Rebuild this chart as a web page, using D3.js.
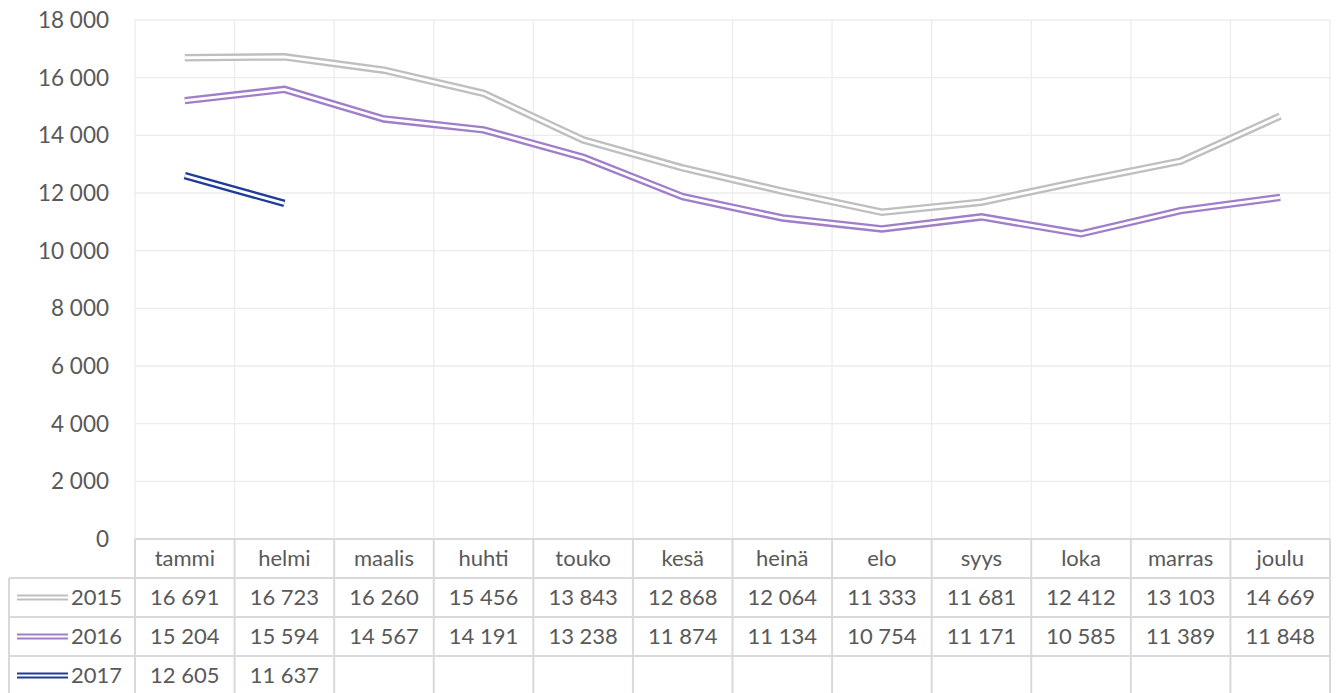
<!DOCTYPE html>
<html>
<head>
<meta charset="utf-8">
<script src="https://cdn.jsdelivr.net/npm/d3@7"></script>
<style>
  body { margin: 0; background: #fff; }
  text { font-family: "Lato", "Open Sans", sans-serif; fill: #595959; }
</style>
</head>
<body>
<svg id="chart" width="1338" height="693"></svg>
<script>
// data
var months = ["tammi", "helmi", "maalis", "huhti", "touko", "kesä", "heinä", "elo", "syys", "loka", "marras", "joulu"];
var years = ["2015", "2016", "2017"];
var values2015 = [16691, 16723, 16260, 15456, 13843, 12868, 12064, 11333, 11681, 12412, 13103, 14669];
var values2016 = [15204, 15594, 14567, 14191, 13238, 11874, 11134, 10754, 11171, 10585, 11389, 11848];
var values2017 = [12605, 11637];
var yTicks = [0, 2000, 4000, 6000, 8000, 10000, 12000, 14000, 16000, 18000];
var colors = ["#bfbfbf", "#a07ec9", "#1f3c98"];

var series = [values2015, values2016, values2017];

var svg = d3.select("#chart");
// note: "top" is taken by window.top, so plotTop/plotBottom
var plotLeft = 135, plotRight = 1330, plotTop = 20, plotBottom = 539;
var rowH = 39, tableLeft = 9;

var x = d3.scaleBand().domain(months).range([plotLeft, plotRight]);
var y = d3.scaleLinear().domain([0, 18000]).range([plotBottom, plotTop]);

var fmt = function (v) { return d3.format(",")(v).replace(/,/g, " "); };

// horizontal gridlines
svg.append("g").selectAll("line").data(yTicks).enter().append("line")
  .attr("x1", plotLeft).attr("x2", plotRight)
  .attr("y1", function (d) { return y(d); }).attr("y2", function (d) { return y(d); })
  .attr("stroke", "#ececec").attr("stroke-width", 1.3);

// vertical gridlines (category boundaries)
var bounds = months.map(function (m) { return x(m); }).concat([plotRight]);
svg.append("g").selectAll("line").data(bounds).enter().append("line")
  .attr("x1", function (d) { return d; }).attr("x2", function (d) { return d; })
  .attr("y1", plotTop).attr("y2", plotBottom)
  .attr("stroke", "#ececec").attr("stroke-width", 1.3);

// y labels
svg.append("g").selectAll("text").data(yTicks).enter().append("text")
  .attr("x", 109).attr("y", function (d) { return y(d); })
  .attr("dy", "0.35em").attr("text-anchor", "end")
  .style("font-size", "22.5px")
  .text(fmt);

// lines (double/compound)
var line = d3.line()
  .x(function (d, i) { return x(months[i]) + x.bandwidth() / 2; })
  .y(function (d) { return y(d); });

series.forEach(function (s, k) {
  svg.append("path").datum(s).attr("d", line)
    .attr("fill", "none").attr("stroke", colors[k]).attr("stroke-width", 7.5)
    .attr("stroke-linejoin", "miter");
  svg.append("path").datum(s).attr("d", line)
    .attr("fill", "none").attr("stroke", "#fff").attr("stroke-width", 2.8)
    .attr("stroke-linejoin", "miter");
});

// data table
var tbl = svg.append("g");
var tableBottom = plotBottom + rowH * 4;
var border = "#d9d9d9";

// horizontal rules
[plotBottom, plotBottom + rowH, plotBottom + rowH * 2, plotBottom + rowH * 3].forEach(function (yy, i) {
  tbl.append("line")
    .attr("x1", i === 0 ? plotLeft : tableLeft).attr("x2", plotRight)
    .attr("y1", yy).attr("y2", yy)
    .attr("stroke", border).attr("stroke-width", 2);
});
// vertical rules
bounds.forEach(function (xx) {
  tbl.append("line").attr("x1", xx).attr("x2", xx)
    .attr("y1", plotBottom).attr("y2", tableBottom)
    .attr("stroke", border).attr("stroke-width", 2);
});
tbl.append("line").attr("x1", tableLeft).attr("x2", tableLeft)
  .attr("y1", plotBottom + rowH).attr("y2", tableBottom)
  .attr("stroke", border).attr("stroke-width", 2);

// month header
tbl.selectAll("text.m").data(months).enter().append("text")
  .attr("class", "m")
  .attr("x", function (d) { return x(d) + x.bandwidth() / 2; })
  .attr("y", plotBottom + rowH / 2).attr("dy", "0.35em")
  .attr("text-anchor", "middle").style("font-size", "22px")
  .text(function (d) { return d; });

// rows
series.forEach(function (s, k) {
  var cy = plotBottom + rowH * (k + 1) + rowH / 2;
  tbl.append("line").attr("x1", 17).attr("x2", 68)
    .attr("y1", cy).attr("y2", cy)
    .attr("stroke", colors[k]).attr("stroke-width", 6);
  tbl.append("line").attr("x1", 17).attr("x2", 68)
    .attr("y1", cy).attr("y2", cy)
    .attr("stroke", "#fff").attr("stroke-width", 2);
  tbl.append("text").attr("x", 71).attr("y", cy).attr("dy", "0.35em")
    .style("font-size", "22px").text(years[k]);
  tbl.selectAll("text.v" + k).data(s).enter().append("text")
    .attr("class", "v" + k)
    .attr("x", function (d, i) { return x(months[i]) + x.bandwidth() / 2; })
    .attr("y", cy).attr("dy", "0.35em")
    .attr("text-anchor", "middle").style("font-size", "22px")
    .text(fmt);
});
</script>
</body>
</html>
